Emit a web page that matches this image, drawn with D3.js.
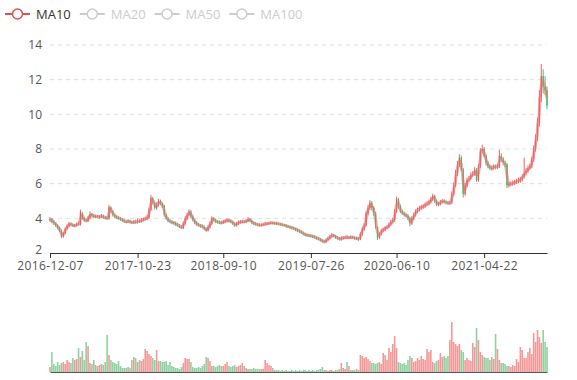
<!DOCTYPE html>
<html>
<head>
<script src="https://cdn.jsdelivr.net/npm/d3@7/dist/d3.min.js"></script>
<style>
body { margin: 0; background: #fff; }
text { font-family: "Open Sans", sans-serif; }
</style>
</head>
<body>
<script>

// weekly candles (2016-12 .. 2021-12)
var opens = [
3.90,3.95,3.82,3.70,3.60,3.45,3.30,2.95,3.15,3.42, 3.55,3.70,3.62,3.56,3.60,3.68,3.65,4.30,4.00,3.90,
3.85,4.05,4.25,4.15,4.08,4.12,4.06,4.10,4.15,4.05, 4.02,4.00,4.62,4.40,4.20,4.10,4.05,4.00,3.95,3.88,
3.82,3.80,3.85,3.78,3.75,3.82,3.78,3.85,3.82,3.90, 3.95,3.98,4.05,4.50,5.15,4.90,4.60,4.80,5.00,4.85,
4.70,4.20,4.00,3.85,3.80,3.75,3.72,3.65,3.60,3.52, 3.45,3.70,4.00,4.20,4.40,4.10,3.90,3.75,3.65,3.60,
3.55,3.50,3.40,3.30,3.50,3.70,4.00,3.90,3.80,3.78, 3.76,3.75,3.80,3.85,3.90,3.85,3.80,3.70,3.60,3.70,
3.78,3.80,3.82,3.80,3.85,3.95,3.85,3.75,3.70,3.65, 3.62,3.60,3.62,3.65,3.68,3.70,3.72,3.74,3.70,3.72,
3.70,3.68,3.65,3.62,3.60,3.55,3.52,3.48,3.45,3.40, 3.35,3.30,3.25,3.18,3.10,3.05,3.02,3.00,2.98,2.95,
2.90,2.85,2.80,2.75,2.68,2.65,2.75,2.85,2.95,3.05, 2.98,2.90,2.85,2.80,2.85,2.88,2.90,2.88,2.90,2.92,
2.88,2.85,2.85,2.80,3.10,3.40,3.60,4.30,4.60,4.90, 4.60,4.30,3.50,2.90,3.10,3.30,3.35,3.45,3.50,3.65,
3.80,3.90,4.40,5.10,4.70,4.40,4.30,4.20,4.15,4.00, 3.70,4.00,4.20,4.40,4.50,4.60,4.65,4.70,4.80,4.85,
4.95,5.10,5.30,5.00,4.80,4.85,4.95,5.00,4.95,4.90, 4.88,4.90,5.40,5.90,6.60,7.10,7.50,6.80,5.40,5.90,
6.20,6.30,6.50,6.55,6.80,6.20,7.00,7.90,8.00,7.60, 7.20,7.00,6.90,6.90,7.00,6.95,7.00,7.60,7.40,7.20,
7.10,5.90,6.00,6.00,6.05,6.10,6.15,6.20,6.25,6.40, 6.60,6.75,6.90,7.00,7.40,8.00,8.60,9.50,11.00,12.20,
11.60,11.40
];
var closes = [
3.95,3.80,3.72,3.60,3.45,3.30,2.95,3.15,3.40,3.55, 3.70,3.62,3.58,3.60,3.68,3.65,4.35,4.00,3.90,3.85,
4.05,4.25,4.15,4.10,4.12,4.08,4.10,4.15,4.05,4.02, 4.00,4.65,4.40,4.20,4.10,4.05,4.00,3.95,3.88,3.82,
3.80,3.85,3.78,3.75,3.80,3.78,3.85,3.82,3.90,3.95, 3.98,4.05,4.50,5.20,4.90,4.60,4.80,5.00,4.85,4.70,
4.20,4.00,3.85,3.80,3.75,3.72,3.65,3.60,3.52,3.45, 3.70,4.00,4.20,4.40,4.10,3.90,3.75,3.65,3.60,3.55,
3.50,3.40,3.30,3.50,3.70,4.00,3.90,3.80,3.78,3.75, 3.75,3.80,3.85,3.90,3.85,3.80,3.70,3.60,3.70,3.78,
3.80,3.82,3.80,3.85,3.95,3.85,3.75,3.70,3.65,3.62, 3.60,3.62,3.65,3.68,3.70,3.72,3.74,3.72,3.72,3.70,
3.68,3.65,3.62,3.60,3.55,3.52,3.48,3.45,3.40,3.35, 3.30,3.25,3.18,3.10,3.05,3.02,3.00,2.98,2.95,2.90,
2.85,2.80,2.75,2.68,2.65,2.75,2.85,2.95,3.05,2.98, 2.90,2.85,2.80,2.85,2.88,2.90,2.88,2.90,2.92,2.88,
2.85,2.85,2.80,3.10,3.40,3.60,4.30,4.60,4.90,4.60, 4.30,3.50,2.90,3.10,3.30,3.35,3.45,3.50,3.65,3.80,
3.90,4.40,5.10,4.70,4.40,4.30,4.20,4.15,4.00,3.70, 4.00,4.20,4.40,4.50,4.60,4.65,4.70,4.80,4.85,4.95,
5.10,5.30,5.00,4.80,4.85,4.95,5.00,4.95,4.90,4.88, 4.90,5.40,5.90,6.60,7.10,7.50,6.80,5.40,5.90,6.20,
6.30,6.50,6.55,6.80,6.20,7.00,7.90,8.00,7.60,7.20, 7.00,6.90,6.90,7.00,6.95,7.00,7.60,7.40,7.20,7.10,
5.90,6.00,6.00,6.05,6.10,6.15,6.20,6.25,6.40,6.60, 6.75,6.90,7.00,7.40,8.00,8.60,9.50,11.00,12.20,11.60,
11.40,10.50
];
var highs = [
4.05,4.02,3.90,3.78,3.66,3.52,3.35,3.22,3.48,3.66, 3.80,3.76,3.70,3.68,3.76,3.80,4.50,4.38,4.08,3.98,
4.15,4.40,4.32,4.24,4.22,4.20,4.18,4.25,4.22,4.14, 4.12,4.78,4.70,4.46,4.28,4.18,4.12,4.08,4.02,3.95,
3.92,3.95,3.92,3.86,3.90,3.92,4.00,3.94,4.02,4.05, 4.10,4.18,4.62,5.35,5.25,4.98,4.92,5.12,5.08,4.92,
4.78,4.28,4.08,3.95,3.90,3.84,3.82,3.74,3.68,3.60, 3.80,4.12,4.32,4.52,4.48,4.18,3.98,3.84,3.74,3.68,
3.64,3.58,3.48,3.62,3.82,4.12,4.08,3.98,3.90,3.88, 3.86,3.90,3.95,4.00,3.98,3.94,3.88,3.78,3.80,3.88,
3.90,3.92,3.90,3.94,4.08,4.02,3.92,3.82,3.78,3.74, 3.70,3.70,3.74,3.80,3.78,3.80,3.84,3.82,3.80,3.80,
3.76,3.74,3.72,3.68,3.66,3.62,3.58,3.55,3.52,3.46, 3.42,3.36,3.30,3.24,3.16,3.12,3.10,3.08,3.05,3.02,
2.96,2.92,2.86,2.80,2.76,2.84,2.94,3.05,3.15,3.10, 3.04,2.98,2.92,2.96,2.98,3.00,3.05,2.98,3.02,3.00,
2.96,2.94,2.92,3.20,3.52,3.72,4.42,4.75,5.05,5.00, 4.70,4.38,3.55,3.20,3.40,3.46,3.56,3.60,3.76,3.92,
4.02,4.55,5.25,5.18,4.78,4.50,4.40,4.30,4.24,4.08, 4.12,4.32,4.52,4.62,4.72,4.78,4.82,4.92,4.98,5.08,
5.22,5.42,5.36,5.08,4.96,5.06,5.12,5.10,5.04,5.00, 5.02,5.55,6.05,6.80,7.30,7.70,7.62,6.90,6.05,6.35,
6.45,6.65,6.72,6.95,6.90,7.15,8.05,8.25,8.12,7.70, 7.32,7.12,7.05,7.12,7.10,7.15,7.95,7.75,7.52,7.30,
7.20,6.12,6.12,6.18,6.22,6.28,6.35,6.40,6.55,7.50, 6.90,7.05,7.15,7.55,8.20,8.85,9.80,11.40,12.90,12.60,
12.20,11.60
];
var lows = [
3.80,3.72,3.62,3.50,3.36,3.20,2.85,2.88,3.08,3.35, 3.48,3.55,3.50,3.48,3.52,3.58,3.58,3.92,3.80,3.76,
3.78,3.96,4.05,4.02,4.00,4.00,3.98,4.02,3.96,3.94, 3.92,3.92,4.30,4.10,4.02,3.96,3.92,3.86,3.80,3.74,
3.72,3.72,3.70,3.68,3.68,3.70,3.70,3.74,3.76,3.82, 3.88,3.90,3.98,4.42,4.80,4.50,4.50,4.70,4.76,4.60,
4.10,3.92,3.78,3.72,3.66,3.64,3.56,3.52,3.44,3.38, 3.38,3.62,3.90,4.12,4.00,3.82,3.66,3.58,3.52,3.46,
3.42,3.32,3.22,3.24,3.42,3.62,3.82,3.72,3.70,3.66, 3.66,3.68,3.72,3.76,3.76,3.72,3.62,3.50,3.52,3.62,
3.70,3.72,3.72,3.72,3.78,3.78,3.66,3.62,3.58,3.55, 3.52,3.54,3.56,3.58,3.62,3.64,3.66,3.64,3.64,3.62,
3.60,3.58,3.55,3.52,3.46,3.44,3.40,3.36,3.32,3.26, 3.22,3.16,3.10,3.02,2.98,2.94,2.92,2.90,2.86,2.82,
2.76,2.72,2.66,2.58,2.55,2.58,2.68,2.78,2.88,2.90, 2.82,2.78,2.72,2.72,2.78,2.80,2.80,2.80,2.82,2.80,
2.76,2.76,2.70,2.74,3.00,3.30,3.52,4.18,4.48,4.45, 4.15,3.40,2.75,2.80,3.02,3.20,3.26,3.38,3.42,3.56,
3.70,3.80,4.30,4.55,4.30,4.20,4.10,4.05,3.90,3.55, 3.62,3.90,4.10,4.30,4.40,4.50,4.55,4.60,4.70,4.75,
4.85,5.00,4.90,4.70,4.70,4.75,4.85,4.85,4.80,4.78, 4.78,4.82,5.30,5.80,6.45,6.95,6.70,5.20,5.30,5.80,
6.10,6.20,6.40,6.45,6.10,6.10,6.90,7.75,7.50,7.05, 6.88,6.78,6.75,6.80,6.82,6.85,6.90,7.25,7.05,6.95,
5.75,5.78,5.85,5.88,5.92,5.98,6.02,6.05,6.12,6.30, 6.48,6.62,6.78,6.88,7.25,7.85,8.45,9.30,10.70,11.20,
11.10,10.30
];
var volumes = [
5,20,8,6,10,7,9,10,8,12, 10,9,14,12,13,24,15,21,12,30,
26,9,8,12,7,6,7,8,7,10, 37,17,12,10,9,8,11,6,4,4,
4,5,4,12,15,14,10,12,11,13, 23,21,18,16,14,12,22,11,11,10,
10,11,7,10,6,5,4,4,3,5, 9,14,13,13,10,5,4,4,5,4,
6,8,15,14,11,6,6,5,6,7, 6,6,8,10,6,5,6,7,5,6,
7,9,6,4,3,3,3,4,3,3, 3,3,3,12,9,7,6,4,2,2,
2,1,2,1,2,1,1,2,1,2, 1,2,1,2,2,1,2,1,2,1,
2,2,3,5,2,2,1,2,2,1, 2,2,3,9,4,3,10,6,2,2,
2,3,2,17,16,14,15,13,11,9, 9,8,9,10,8,19,17,12,24,20,
28,36,24,10,9,8,9,7,12,16, 14,10,11,14,12,16,13,12,23,20,
22,10,9,11,12,19,15,16,14,16, 32,50,30,28,26,28,22,20,12,14,
12,11,29,25,44,32,20,17,15,14, 14,12,15,13,38,23,12,9,9,8,
6,6,5,7,6,13,10,25,22,14, 14,20,24,18,39,30,42,35,29,42,
30,25
];

var tickLabels = ["2016-12-07", "2017-10-23", "2018-09-10", "2019-07-26", "2020-06-10", "2021-04-22"];
var tickIndex = [0, 46, 91, 137, 182, 228];
var priceTicks = [2, 4, 6, 8, 10, 12, 14];
var legendNames = ["MA10", "MA20", "MA50", "MA100"];

var upColor = "#eb5454", downColor = "#47b262", maColor = "#d9534f";

var svg = d3.select("body").append("svg")
	.attr("width", 577)
	.attr("height", 380);

var x = d3.scaleLinear().domain([0, closes.length - 1]).range([50, 547]);
var y = d3.scaleLinear().domain([2, 14]).range([253, 45]);
var yVol = d3.scaleLinear().domain([0, 60]).range([372, 312]);

// grid
svg.append("g").selectAll("line")
	.data(priceTicks.slice(1))
	.enter().append("line")
	.attr("x1", 50).attr("x2", 547)
	.attr("y1", function (d) { return y(d); })
	.attr("y2", function (d) { return y(d); })
	.attr("stroke", "#e0e0e0")
	.attr("stroke-dasharray", "4,4");

// y axis labels
var yAxis = svg.append("g")
	.attr("transform", "translate(50,0)")
	.call(d3.axisLeft(y).tickValues(priceTicks).tickSize(0).tickPadding(8));
yAxis.select(".domain").remove();
yAxis.selectAll("text").attr("fill", "#555").style("font-size", "12px").style("font-family", "Open Sans, sans-serif");
// the bottom "2" sits a little higher so it clears the first date label
yAxis.selectAll("text").filter(function (d) { return d == 2; }).attr("dy", "0em");

// x axis
var xAxis = svg.append("g")
	.attr("transform", "translate(0,253)")
	.call(d3.axisBottom(x).tickValues(tickIndex)
		.tickFormat(function (d, i) { return tickLabels[i]; })
		.tickSize(5).tickSizeOuter(0).tickPadding(3));
xAxis.select(".domain").attr("stroke", "#333");
xAxis.selectAll("line").attr("stroke", "#333");
xAxis.selectAll("text").attr("fill", "#555").style("font-size", "12px").style("font-family", "Open Sans, sans-serif")
	.style("letter-spacing", "0.4px");

var idx = d3.range(closes.length);
function col(i) { return closes[i] >= opens[i] ? upColor : downColor; }

// volume
svg.append("g").selectAll("rect")
	.data(idx)
	.enter().append("rect")
	.attr("x", function (i) { return x(i) - 0.8; })
	.attr("width", 1.6)
	.attr("y", function (i) { return yVol(volumes[i]); })
	.attr("height", function (i) { return yVol(0) - yVol(volumes[i]); })
	.attr("fill", col)
	.attr("opacity", 0.6);

svg.append("g")
	.attr("transform", "translate(0,372)")
	.call(d3.axisBottom(x).tickValues([]).tickSizeOuter(0))
	.select(".domain").attr("stroke", "#555");

// candles
var candles = svg.append("g").selectAll("g")
	.data(idx)
	.enter().append("g");

candles.append("line")
	.attr("x1", function (i) { return x(i); })
	.attr("x2", function (i) { return x(i); })
	.attr("y1", function (i) { return y(highs[i]); })
	.attr("y2", function (i) { return y(lows[i]); })
	.attr("stroke", col)
	.attr("stroke-width", 1)
	.attr("opacity", 0.9);

candles.append("rect")
	.attr("x", function (i) { return x(i) - 0.7; })
	.attr("width", 1.4)
	.attr("y", function (i) { return y(Math.max(opens[i], closes[i])); })
	.attr("height", function (i) { return Math.max(1, Math.abs(y(opens[i]) - y(closes[i]))); })
	.attr("fill", col)
	.attr("opacity", 0.9);

// MA10 (two weekly candles ~ ten trading days)
var ma = idx.map(function (i) {
	return i < 1 ? closes[0] : (closes[i] + closes[i - 1]) / 2;
});
svg.append("path")
	.datum(idx)
	.attr("d", d3.line()
		.x(function (i) { return x(i); })
		.y(function (i) { return y(ma[i]); })
		.curve(d3.curveMonotoneX))
	.attr("fill", "none")
	.attr("stroke", "#e57373")
	.attr("stroke-width", 3)
	.attr("opacity", 0.55);

// legend
var lx = 5;
legendNames.forEach(function (name, k) {
	var c = k == 0 ? maColor : "#ccc";
	var g = svg.append("g").attr("transform", "translate(" + lx + ",14)");
	g.append("line").attr("x1", 0).attr("x2", 25).attr("stroke", c).attr("stroke-width", 2);
	g.append("circle").attr("cx", 12.5).attr("r", 5).attr("fill", "#fff").attr("stroke", c).attr("stroke-width", 1.5);
	var t = g.append("text").attr("x", 31).attr("y", 4.5)
		.style("font-size", "13px")
		.attr("fill", k == 0 ? "#333" : "#ccc")
		.text(name);
	lx += 31 + t.node().getComputedTextLength() + 9;
});

</script>
</body>
</html>
